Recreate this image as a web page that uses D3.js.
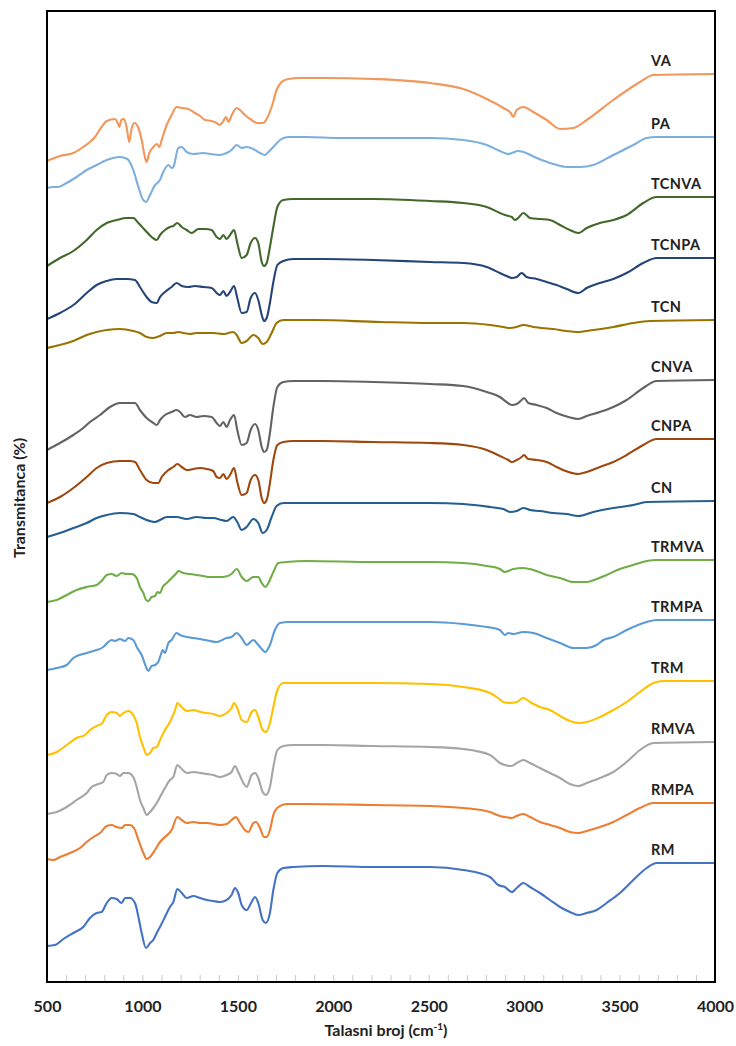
<!DOCTYPE html>
<html>
<head>
<meta charset="utf-8">
<script src="https://cdn.jsdelivr.net/npm/d3@7"></script>
<style>
  body { margin: 0; background: #fff; }
  svg text { font-family: Lato, "Open Sans", sans-serif; font-weight: 700; fill: #222; }
</style>
</head>
<body>
<svg id="chart"></svg>
<script>
// x ticks (cm-1)
const majorTicks = [500, 1000, 1500, 2000, 2500, 3000, 3500, 4000];
const minorTicks = d3.range(500, 4001, 100);

// spectra, top to bottom, stacked transmittance (a.u.) vs wavenumber
const VA = [[500,83.9],[568,84.4],[638,84.7],[690,85.3],[725,85.8],[751,86.3],[786,87.3],[813,87.9],[856,88.1],[868,87.8],[879,87.3],[889,88.0],[903,88.1],[917,87.3],[931,85.8],[944,87.2],[958,87.7],[979,87.2],[996,86.0],[1013,84.3],[1022,83.8],[1036,84.7],[1057,85.3],[1075,85.6],[1089,85.3],[1101,86.0],[1127,87.5],[1153,88.5],[1179,89.3],[1206,89.2],[1240,89.1],[1275,88.7],[1302,88.4],[1328,88.0],[1363,87.9],[1389,87.7],[1406,87.5],[1424,87.9],[1438,88.3],[1450,87.8],[1468,88.5],[1494,89.2],[1511,89.0],[1537,88.5],[1572,88.0],[1599,87.7],[1630,87.7],[1651,88.1],[1677,89.3],[1703,91.0],[1729,91.8],[1764,92.1],[1826,92.2],[1948,92.2],[2210,92.1],[2507,91.7],[2681,91.1],[2804,90.1],[2891,89.2],[2930,88.7],[2943,88.3],[2961,89.0],[2996,89.3],[3048,88.8],[3118,88.0],[3188,87.1],[3258,87.2],[3328,88.0],[3467,90.0],[3607,91.8],[3677,92.5],[4000,92.6]];
const PA = [[500,81.2],[533,81.3],[559,81.3],[603,81.7],[655,82.3],[708,83.0],[760,83.5],[813,84.0],[882,84.3],[921,84.1],[952,83.0],[979,81.3],[1001,80.1],[1019,79.8],[1040,80.5],[1066,81.5],[1078,81.7],[1092,82.0],[1109,82.8],[1136,83.5],[1153,83.2],[1162,83.3],[1188,85.2],[1206,85.3],[1232,84.8],[1267,84.6],[1319,84.7],[1354,84.6],[1406,84.5],[1441,84.7],[1467,85.0],[1494,85.5],[1520,85.2],[1546,85.3],[1581,85.1],[1616,84.7],[1642,84.5],[1660,84.8],[1686,85.3],[1721,86.0],[1764,86.3],[1860,86.3],[2035,86.2],[2507,86.2],[2681,86.0],[2804,85.5],[2873,84.9],[2917,84.6],[2935,84.7],[2969,84.9],[2996,84.8],[3066,84.2],[3153,83.6],[3223,83.3],[3293,83.3],[3362,83.5],[3467,84.5],[3572,85.5],[3642,86.2],[3694,86.3],[4000,86.3]];
const TCNVA = [[500,73.4],[568,74.2],[638,74.9],[708,76.0],[760,77.0],[813,77.7],[865,78.0],[917,78.2],[952,78.2],[979,77.7],[1013,77.0],[1048,76.3],[1075,76.0],[1092,76.5],[1118,77.0],[1144,77.3],[1162,77.4],[1183,77.7],[1206,77.3],[1232,77.0],[1258,76.7],[1293,77.1],[1328,77.1],[1363,77.0],[1389,76.3],[1406,76.1],[1424,76.5],[1441,76.1],[1459,76.5],[1480,77.0],[1497,75.7],[1520,74.2],[1546,74.5],[1567,75.7],[1590,76.2],[1607,75.7],[1625,73.8],[1637,73.4],[1651,73.7],[1668,75.3],[1686,77.3],[1707,79.3],[1738,80.0],[1791,80.1],[1948,80.1],[2210,80.1],[2507,79.9],[2681,79.7],[2804,79.3],[2873,78.7],[2899,78.5],[2935,78.3],[2952,78.0],[2969,78.2],[2996,78.7],[3031,78.2],[3083,78.1],[3135,78.0],[3188,77.5],[3240,77.0],[3284,76.7],[3328,77.2],[3397,77.7],[3467,78.0],[3537,78.5],[3624,79.7],[3694,80.3],[4000,80.3]];
const TCNPA = [[500,68.1],[568,68.7],[638,69.5],[708,70.7],[760,71.5],[813,71.9],[865,72.1],[917,72.1],[961,72.0],[987,71.3],[1022,70.3],[1048,69.8],[1075,69.7],[1092,70.3],[1118,70.8],[1153,71.3],[1179,71.7],[1206,71.4],[1240,71.3],[1275,71.4],[1319,71.3],[1363,71.2],[1389,70.7],[1406,70.5],[1424,70.9],[1441,70.4],[1459,70.8],[1480,71.4],[1497,70.2],[1520,68.7],[1546,68.8],[1567,70.2],[1590,70.7],[1607,70.0],[1625,68.5],[1637,67.9],[1651,68.2],[1668,69.7],[1686,71.8],[1707,73.5],[1738,73.9],[1791,74.1],[1948,74.1],[2210,74.0],[2507,73.8],[2681,73.7],[2804,73.3],[2873,72.7],[2908,72.4],[2935,72.2],[2961,72.3],[2987,72.7],[3013,72.3],[3066,72.1],[3118,71.8],[3170,71.5],[3223,71.1],[3284,70.7],[3328,71.2],[3397,71.7],[3467,72.1],[3537,72.7],[3624,73.7],[3694,74.2],[4000,74.2]];
const TCN = [[500,65.2],[568,65.5],[638,65.9],[708,66.5],[760,66.8],[813,67.0],[882,67.1],[952,66.9],[987,66.7],[1022,66.3],[1057,66.2],[1092,66.4],[1127,66.7],[1162,66.7],[1188,66.8],[1214,66.7],[1249,66.6],[1284,66.7],[1319,66.7],[1371,66.7],[1424,66.6],[1450,66.7],[1476,66.8],[1494,66.5],[1520,65.7],[1546,65.9],[1581,66.5],[1607,66.2],[1630,65.6],[1651,65.8],[1677,66.7],[1703,67.7],[1738,68.0],[1900,68.0],[2245,67.8],[2507,67.7],[2681,67.7],[2821,67.5],[2891,67.3],[2926,67.2],[2961,67.3],[2996,67.5],[3048,67.3],[3153,67.1],[3223,66.9],[3275,66.8],[3362,67.0],[3467,67.3],[3572,67.7],[3659,67.9],[4000,68.0]];
const CNVA = [[500,55.0],[568,55.7],[638,56.5],[690,57.2],[725,57.8],[778,58.5],[830,59.3],[882,59.7],[935,59.7],[961,59.7],[987,59.0],[1022,58.2],[1057,57.7],[1075,57.5],[1092,58.0],[1118,58.5],[1153,58.8],[1179,59.0],[1197,58.8],[1223,58.3],[1249,58.5],[1284,58.3],[1319,58.4],[1363,58.3],[1389,57.7],[1406,57.4],[1424,57.8],[1441,57.3],[1459,58.0],[1480,58.5],[1497,57.0],[1520,55.5],[1546,55.7],[1567,57.0],[1590,57.6],[1607,57.0],[1625,55.3],[1637,54.8],[1651,55.0],[1668,56.7],[1686,59.3],[1707,61.3],[1738,61.8],[1791,61.9],[1948,61.9],[2210,61.8],[2507,61.6],[2681,61.4],[2804,60.8],[2873,60.3],[2908,59.8],[2935,59.5],[2961,59.6],[2987,60.0],[2999,60.2],[3022,59.7],[3066,59.5],[3118,59.2],[3170,58.7],[3232,58.3],[3284,58.1],[3328,58.4],[3397,58.8],[3467,59.3],[3537,60.0],[3624,61.2],[3694,61.9],[4000,62.0]];
const CNPA = [[500,49.7],[568,50.3],[638,51.2],[708,52.3],[760,53.2],[813,53.7],[882,53.9],[935,53.9],[961,53.8],[987,53.0],[1022,52.0],[1057,51.7],[1083,51.7],[1101,52.3],[1136,53.0],[1162,53.3],[1183,53.6],[1206,53.3],[1232,53.0],[1267,53.1],[1302,53.2],[1337,53.1],[1371,52.9],[1389,52.3],[1406,52.2],[1424,52.6],[1441,52.1],[1459,52.5],[1480,53.2],[1497,51.8],[1520,50.5],[1546,50.7],[1567,52.0],[1590,52.5],[1607,52.0],[1625,50.2],[1637,49.7],[1651,50.0],[1668,51.7],[1686,54.0],[1707,55.5],[1738,55.8],[1791,55.9],[1948,55.9],[2210,55.8],[2507,55.7],[2681,55.5],[2804,55.0],[2873,54.4],[2917,54.0],[2935,53.8],[2961,54.0],[2987,54.3],[2999,54.5],[3022,54.1],[3066,54.0],[3118,53.8],[3170,53.3],[3232,52.8],[3284,52.6],[3328,52.8],[3397,53.3],[3467,53.8],[3537,54.5],[3624,55.5],[3694,56.1],[4000,56.1]];
const CN = [[500,46.3],[568,46.7],[638,47.2],[708,47.7],[760,48.2],[813,48.5],[882,48.7],[952,48.6],[987,48.3],[1022,48.0],[1066,47.8],[1092,48.0],[1127,48.3],[1179,48.3],[1232,48.1],[1284,48.3],[1337,48.2],[1371,48.2],[1415,48.0],[1441,47.9],[1476,48.3],[1497,47.8],[1520,47.0],[1546,47.3],[1581,48.1],[1607,47.7],[1630,46.7],[1651,47.0],[1677,48.3],[1703,49.4],[1738,49.7],[1860,49.7],[2210,49.7],[2507,49.7],[2681,49.6],[2821,49.3],[2891,49.1],[2926,48.8],[2961,48.9],[2996,49.2],[3031,49.0],[3083,48.9],[3153,48.7],[3223,48.6],[3284,48.4],[3362,48.8],[3467,49.2],[3572,49.5],[3642,49.8],[4000,49.9]];
const TRMVA = [[500,39.8],[551,40.0],[603,40.5],[655,41.0],[708,41.3],[760,41.5],[786,41.9],[813,42.5],[839,42.6],[865,42.4],[891,42.7],[917,42.6],[944,42.6],[970,42.2],[987,41.3],[1005,40.7],[1019,40.0],[1031,39.9],[1048,40.3],[1066,40.4],[1078,40.8],[1092,40.7],[1106,41.3],[1127,41.7],[1153,42.2],[1179,42.7],[1188,42.9],[1214,42.7],[1249,42.6],[1284,42.5],[1319,42.4],[1354,42.3],[1389,42.3],[1424,42.3],[1467,42.6],[1494,43.1],[1520,42.3],[1546,41.9],[1581,42.3],[1607,42.3],[1625,41.7],[1643,41.3],[1660,41.7],[1686,42.8],[1712,43.7],[1756,43.8],[1860,43.9],[2210,43.8],[2507,43.8],[2681,43.7],[2804,43.4],[2873,43.1],[2899,42.8],[2917,42.9],[2943,43.1],[2996,43.2],[3048,43.0],[3118,42.5],[3188,42.2],[3258,41.8],[3328,41.8],[3380,42.1],[3432,42.5],[3502,43.1],[3572,43.5],[3642,43.9],[3694,44.0],[4000,44.0]];
const TRMPA = [[500,33.0],[551,33.2],[603,33.5],[638,34.2],[708,34.7],[760,35.0],[795,35.3],[821,35.8],[839,36.0],[856,35.9],[882,36.1],[909,35.9],[926,36.2],[952,36.0],[973,35.2],[996,34.5],[1019,33.3],[1031,32.9],[1048,33.4],[1066,33.5],[1083,33.8],[1096,34.5],[1106,35.0],[1118,34.7],[1136,35.7],[1153,36.0],[1179,36.7],[1197,36.5],[1232,36.3],[1267,36.2],[1302,36.1],[1354,35.9],[1389,35.8],[1441,36.2],[1467,36.3],[1494,36.7],[1520,36.2],[1546,35.5],[1581,36.0],[1607,35.5],[1630,35.0],[1643,34.8],[1668,35.5],[1694,37.0],[1721,37.7],[1764,37.8],[1860,37.8],[2210,37.8],[2507,37.8],[2681,37.6],[2804,37.3],[2873,37.0],[2899,36.5],[2917,36.7],[2943,36.6],[2996,36.8],[3048,36.7],[3118,36.2],[3188,35.7],[3258,35.2],[3328,35.2],[3380,35.5],[3415,36.0],[3467,36.3],[3537,37.0],[3642,37.8],[3694,38.0],[4000,38.0]];
const TRM = [[500,24.5],[551,24.8],[603,25.5],[655,26.2],[699,26.5],[725,27.0],[760,27.4],[786,27.6],[813,28.5],[839,28.8],[865,28.7],[882,28.4],[900,28.7],[926,28.9],[952,28.5],[970,27.7],[987,26.3],[1005,25.3],[1022,24.5],[1040,24.7],[1057,25.2],[1075,25.3],[1092,26.0],[1118,27.0],[1144,27.8],[1171,29.0],[1183,29.7],[1206,29.3],[1232,28.9],[1267,29.0],[1302,28.8],[1337,28.7],[1371,28.6],[1406,28.4],[1441,28.7],[1467,29.2],[1480,29.7],[1497,29.2],[1520,28.0],[1546,27.8],[1572,28.8],[1590,29.0],[1607,28.3],[1630,27.0],[1647,26.8],[1668,27.7],[1686,29.3],[1707,31.0],[1738,31.7],[1791,31.7],[1948,31.7],[2210,31.7],[2507,31.6],[2681,31.3],[2821,30.7],[2864,30.2],[2891,29.8],[2926,29.7],[2961,29.8],[2996,30.2],[3031,29.8],[3083,29.3],[3135,29.0],[3188,28.4],[3240,27.9],[3284,27.7],[3328,27.8],[3397,28.3],[3467,29.0],[3537,29.8],[3607,30.8],[3677,31.7],[3729,31.9],[4000,31.9]];
const RMVA = [[500,18.6],[551,18.8],[603,19.3],[655,20.0],[708,20.7],[734,21.3],[769,21.6],[795,21.8],[813,22.5],[839,22.7],[865,22.6],[882,22.4],[900,22.7],[926,22.7],[952,22.3],[970,21.3],[987,20.0],[1005,19.2],[1022,18.5],[1040,18.8],[1057,19.2],[1075,19.7],[1092,20.3],[1118,21.2],[1144,22.0],[1162,22.3],[1183,23.5],[1206,23.1],[1232,22.7],[1267,22.8],[1302,22.7],[1337,22.6],[1371,22.5],[1406,22.3],[1441,22.5],[1467,22.8],[1485,23.4],[1502,22.8],[1529,21.7],[1546,21.3],[1572,22.5],[1590,22.7],[1607,22.2],[1630,20.8],[1647,20.5],[1668,21.3],[1686,23.3],[1707,25.0],[1738,25.4],[1791,25.5],[1948,25.5],[2210,25.4],[2507,25.3],[2681,25.1],[2821,24.5],[2873,23.7],[2899,23.5],[2935,23.4],[2961,23.7],[2996,24.0],[3031,23.7],[3083,23.2],[3135,22.7],[3188,22.2],[3240,21.6],[3284,21.4],[3328,21.7],[3397,22.2],[3467,22.8],[3537,23.8],[3607,25.0],[3677,25.7],[4000,25.8]];
const RMPA = [[500,14.1],[533,14.0],[568,14.3],[621,14.7],[673,15.2],[708,15.8],[743,16.3],[778,16.7],[813,17.4],[839,17.5],[865,17.3],[891,17.2],[909,17.5],[935,17.5],[956,17.2],[979,16.0],[1005,14.7],[1022,14.1],[1040,14.3],[1066,15.0],[1092,15.8],[1118,16.3],[1153,17.0],[1183,18.3],[1206,18.0],[1232,17.7],[1267,17.8],[1302,17.7],[1337,17.7],[1371,17.6],[1406,17.5],[1441,17.6],[1467,18.0],[1490,18.3],[1511,17.7],[1537,17.0],[1555,16.8],[1581,17.7],[1595,17.8],[1616,17.2],[1637,16.3],[1651,16.3],[1668,17.0],[1686,18.5],[1712,19.3],[1756,19.6],[1860,19.6],[2210,19.5],[2507,19.4],[2681,19.2],[2821,18.8],[2873,18.4],[2899,18.3],[2935,18.2],[2961,18.4],[2996,18.6],[3031,18.3],[3083,17.8],[3135,17.5],[3188,17.2],[3240,16.8],[3284,16.7],[3328,16.9],[3397,17.3],[3467,17.8],[3537,18.5],[3607,19.2],[3677,19.7],[4000,19.7]];
const RM = [[500,5.4],[542,5.5],[586,6.1],[638,6.7],[690,7.3],[725,8.2],[760,8.7],[786,8.8],[813,9.7],[839,10.2],[865,10.1],[891,9.7],[909,10.2],[935,10.2],[961,9.7],[979,8.3],[996,6.7],[1019,5.2],[1040,5.7],[1057,6.0],[1075,6.7],[1092,7.3],[1118,8.3],[1144,9.3],[1162,9.8],[1183,11.1],[1206,10.7],[1232,10.2],[1267,10.4],[1302,10.2],[1337,10.0],[1371,9.9],[1406,9.8],[1441,10.0],[1467,10.5],[1485,11.2],[1502,10.7],[1520,9.5],[1546,9.0],[1572,9.8],[1590,10.3],[1607,9.7],[1630,8.0],[1647,7.7],[1668,8.7],[1686,11.0],[1707,12.7],[1738,13.2],[1791,13.3],[1948,13.4],[2210,13.3],[2507,13.3],[2681,13.0],[2821,12.3],[2864,11.5],[2899,11.3],[2935,10.8],[2961,11.2],[2996,11.7],[3031,11.3],[3083,10.7],[3135,10.0],[3188,9.3],[3240,8.8],[3284,8.5],[3328,8.7],[3380,9.0],[3432,9.7],[3502,10.7],[3572,12.0],[3642,13.2],[3694,13.7],[4000,13.7]];

const seriesNames = ["VA", "PA", "TCNVA", "TCNPA", "TCN", "CNVA", "CNPA", "CN", "TRMVA", "TRMPA", "TRM", "RMVA", "RMPA", "RM"];
const seriesData = [VA, PA, TCNVA, TCNPA, TCN, CNVA, CNPA, CN, TRMVA, TRMPA, TRM, RMVA, RMPA, RM];
const seriesColors = ["#F1975A", "#7CAFDD", "#43682B", "#264478", "#997300", "#636363", "#9E480E",
                      "#255E91", "#70AD47", "#5B9BD5", "#FFC000", "#A5A5A5", "#ED7D31", "#4472C4"];

// Setup the plot box
const width = 736, height = 1046;
const margin = { top: 11, right: 21, bottom: 64, left: 47 };
const innerW = width - margin.left - margin.right;
const innerH = height - margin.top - margin.bottom;

const svg = d3.select("#chart")
    .attr("width", width)
    .attr("height", height);

const x = d3.scaleLinear().domain([500, 4000]).range([margin.left, margin.left + innerW]);
const y = d3.scaleLinear().domain([1.8, 98.9]).range([margin.top + innerH, margin.top]);

// minor ticks pointing into the plot, labels only on the 500s
const xAxis = d3.axisBottom(x)
    .tickValues(minorTicks)
    .tickSize(-7)
    .tickPadding(19)
    .tickFormat(d => majorTicks.includes(d) ? d : "");

const gx = svg.append("g")
    .attr("transform", "translate(0," + (margin.top + innerH) + ")")
    .call(xAxis);
gx.select(".domain").remove();
gx.selectAll(".tick line").attr("stroke", "#c8c8c8").attr("stroke-width", 1);
gx.selectAll(".tick text")
    .style("font-size", "16px")
    .style("font-family", "Lato, sans-serif")
    .style("font-weight", 700)
    .attr("fill", "#222");

// the spectra
const line = d3.line()
    .x(d => x(d[0]))
    .y(d => y(d[1]))
    .curve(d3.curveMonotoneX);

svg.append("g")
    .selectAll("path")
    .data(seriesData)
    .join("path")
    .attr("d", line)
    .attr("fill", "none")
    .attr("stroke", (d, i) => seriesColors[i])
    .attr("stroke-width", 2.1)
    .attr("stroke-linejoin", "round");

// sample labels above the right end of each curve
svg.append("g")
    .selectAll("text")
    .data(seriesData)
    .join("text")
    .attr("x", margin.left + innerW - 64)
    .attr("y", d => y(d[d.length - 1][1]) - 8)
    .style("font-size", "14.5px")
    .style("letter-spacing", "0.4px")
    .text((d, i) => seriesNames[i]);

// frame
svg.append("rect")
    .attr("x", margin.left)
    .attr("y", margin.top)
    .attr("width", innerW)
    .attr("height", innerH)
    .attr("fill", "none")
    .attr("stroke", "#000")
    .attr("stroke-width", 2);

// axis titles
const xTitle = svg.append("text")
    .attr("x", margin.left + innerW / 2 + 5)
    .attr("y", 1036)
    .attr("text-anchor", "middle")
    .style("font-size", "16px");
xTitle.append("tspan").text("Talasni broj (cm");
xTitle.append("tspan").attr("dy", -6).style("font-size", "10px").text("-1");
xTitle.append("tspan").attr("dy", 6).text(")");

svg.append("text")
    .attr("transform", "translate(25,498) rotate(-90)")
    .attr("text-anchor", "middle")
    .style("font-size", "16px")
    .text("Transmitanca (%)");
</script>
</body>
</html>
